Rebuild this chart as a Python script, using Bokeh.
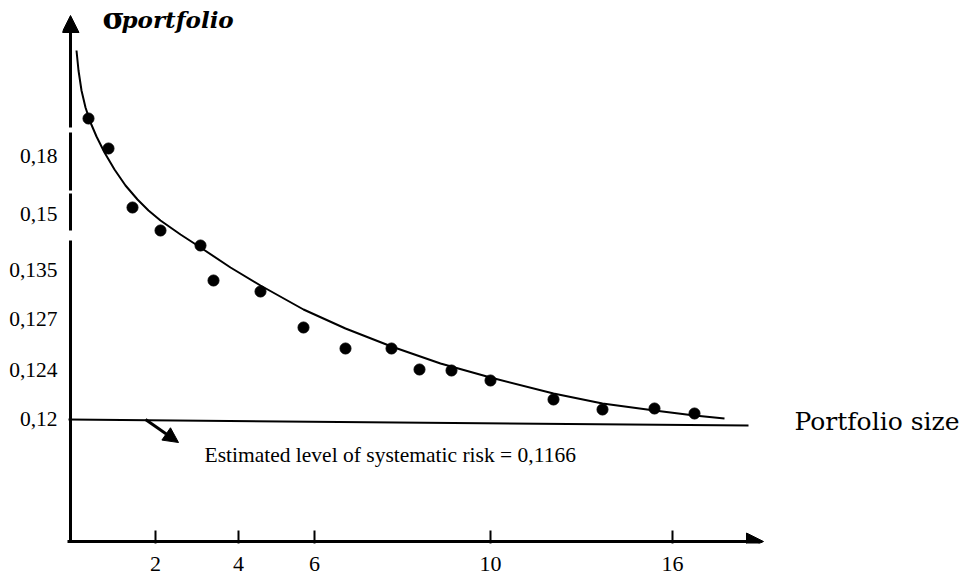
from bokeh.plotting import figure
from bokeh.models import Range1d, FixedTicker, Arrow, NormalHead
from bokeh.core.properties import value
from bokeh.embed import file_html
from bokeh.resources import INLINE

# ---- data (schematic axis units) ----
x_tick_pos = [85, 168, 244, 420, 602]
x_tick_labels = ["2", "4", "6", "10", "16"]
y_tick_pos = [123, 172, 223, 272, 328, 386]
y_tick_labels = ["0,12", "0,124", "0,127", "0,135", "0,15", "0,18"]

obs_x = [18, 38, 62, 90, 130, 143, 190, 233, 275, 321, 349, 381, 420, 483, 532, 584, 624]
obs_y = [423, 393, 334, 311, 296, 261, 250, 214, 193, 193, 172, 171, 161, 142, 132, 133, 128]

fit_x = [6, 8, 11, 15, 20, 26, 34, 44, 55, 67, 78, 90, 110, 130, 160, 190, 233, 275,
         321, 370, 420, 483, 532, 584, 624, 654]
fit_y = [491, 471, 451, 434, 419, 405, 389, 372, 356, 342, 331, 321, 307, 294, 274, 256,
         232, 213, 195, 178, 164, 148, 138, 131, 126, 123]

risk_x = [-2, 678]
risk_y = [122, 116]
risk_label = "Estimated level of systematic risk = 0,1166"

SERIF = "Liberation Serif"

p = figure(width=962, height=579,
           x_range=Range1d(-8, 892), y_range=Range1d(-2, 541),
           output_backend="svg", toolbar_location=None,
           min_border_left=62, min_border_right=0,
           min_border_top=0, min_border_bottom=36)
p.outline_line_color = None
p.xgrid.visible = False
p.ygrid.visible = False
p.background_fill_color = "white"
p.border_fill_color = "white"

# x axis: ticks and labels only (line drawn as arrow)
xa = p.xaxis[0]
xa.ticker = FixedTicker(ticks=x_tick_pos)
xa.major_label_overrides = dict(zip(x_tick_pos, x_tick_labels))
xa.axis_line_color = None
xa.major_tick_in = 13
xa.major_tick_out = 0
xa.major_tick_line_width = 2
xa.major_tick_line_color = "black"
xa.minor_tick_line_color = None
xa.major_label_standoff = 13
xa.major_label_text_font = SERIF
xa.major_label_text_font_size = "22px"
xa.major_label_text_color = "black"

ya = p.yaxis[0]
ya.ticker = FixedTicker(ticks=y_tick_pos)
ya.major_label_overrides = dict(zip(y_tick_pos, y_tick_labels))
ya.axis_line_color = None
ya.major_tick_line_color = None
ya.major_tick_in = 0
ya.major_tick_out = 0
ya.minor_tick_line_color = None
ya.major_label_standoff = 5
ya.major_label_text_font = SERIF
ya.major_label_text_font_size = "21.5px"
ya.major_label_text_color = "black"

# axes lines with arrow heads
p.add_layout(Arrow(x_start=0, y_start=-1.5, x_end=0, y_end=526,
                   line_width=3, line_color="black",
                   end=NormalHead(size=17, fill_color="black", line_color="black")))
p.add_layout(Arrow(x_start=-3, y_start=0, x_end=693, y_end=0,
                   line_width=3, line_color="black",
                   end=NormalHead(size=17, fill_color="black", line_color="black")))

# small breaks in the vertical axis
brk = p.segment(x0=[0, 0, 0], y0=[409, 348, 301], x1=[0, 0, 0], y1=[414, 351, 311],
                line_color="white", line_width=5)
brk.level = "overlay"

# systematic risk level line
p.line(risk_x, risk_y, line_color="black", line_width=2)
p.add_layout(Arrow(x_start=75, y_start=122, x_end=108, y_end=99,
                   line_width=3, line_color="black",
                   end=NormalHead(size=15, fill_color="black", line_color="black")))

# fitted curve and observations
p.line(fit_x, fit_y, line_color="black", line_width=2)
p.scatter(obs_x, obs_y, size=11, fill_color="black", line_color="black")

# texts
p.text(x=[134], y=[87], text=[risk_label], text_font=value(SERIF),
       text_font_size="21.5px", text_color="black", text_baseline="alphabetic")
p.text(x=[724], y=[120], text=["Portfolio size"], text_font=value("DejaVu Serif"),
       text_font_size="25px", text_color="black", text_baseline="alphabetic")
p.text(x=[32], y=[523], text=["σ"], text_font=value("DejaVu Serif"),
       text_font_size="30px", text_font_style="bold", text_color="black",
       text_baseline="alphabetic")
p.text(x=[51], y=[522], text=["portfolio"], text_font=value("DejaVu Serif"),
       text_font_size="23px", text_font_style="bold italic", text_color="black",
       text_baseline="alphabetic")

open("out.html", "w").write(file_html(p, INLINE))
